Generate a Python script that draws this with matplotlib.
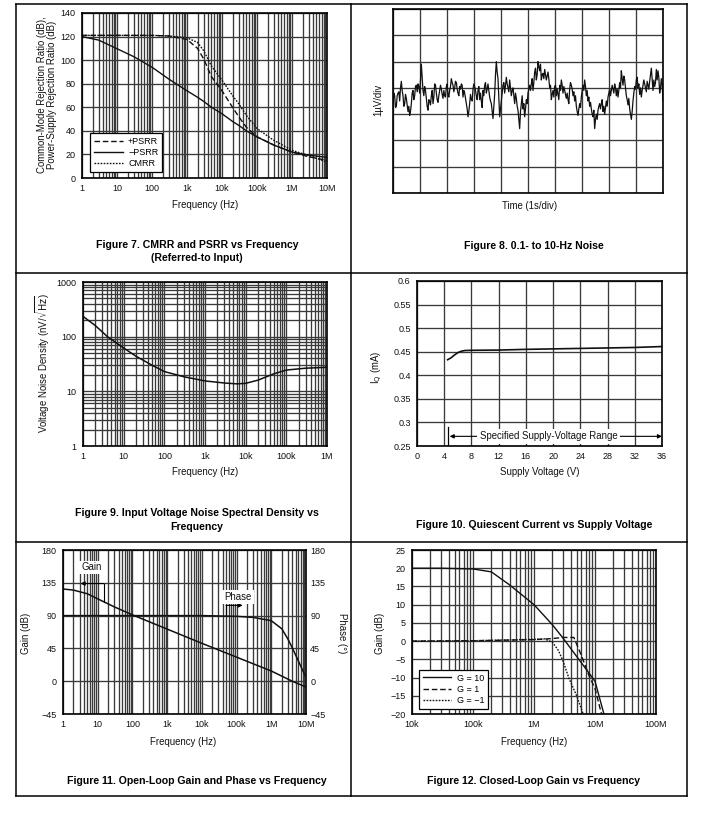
import numpy as np
import matplotlib
matplotlib.use('Agg')
import matplotlib.pyplot as plt
from matplotlib.lines import Line2D

plt.rcParams['font.family'] = ['Liberation Sans', 'DejaVu Sans']
plt.rcParams['axes.unicode_minus'] = True

# ---------------- data ----------------
# Figure 7: CMRR / PSRR vs frequency
cm_freq = [1, 3, 10, 30, 100, 300, 1e3, 2e3, 3e3, 5e3, 1e4, 2e4, 3e4, 5e4, 1e5, 3e5, 1e6, 3e6, 1e7]
psrr_pos = [121, 121, 121, 121, 121, 120.5, 117.5, 110, 101, 86, 74, 60, 52, 43, 35, 28, 22, 18, 15]
psrr_neg = [120, 117, 109.7, 103, 94, 84, 74, 68.5, 65, 60, 54.5, 48, 44.7, 40, 34.8, 28, 22, 19.4, 17.5]
cmrr = [121, 121, 121, 121, 121, 120.5, 119, 115, 108, 95, 83, 70, 63, 53, 42, 32, 23.5, 19, 13.6]
cm_ticks = [1, 10, 100, 1e3, 1e4, 1e5, 1e6, 1e7]
cm_ticklabels = ['1', '10', '100', '1k', '10k', '100k', '1M', '10M']
cm_yticks = [0, 20, 40, 60, 80, 100, 120, 140]

# Figure 8: 0.1 to 10 Hz noise (uV, relative to centre line, 10 s record)
noise_uv = [-0.6, -0.2, -0.3, -0.75, -0.7, -0.3, -0.2, -0.15, -0.5, 0.0, 0.25, -0.1, -0.3, -0.7,
            -0.6, -0.25, -0.4, -0.65, -0.9, -0.7, -1.05, -0.9, -0.6, -0.2, -0.1, -0.45, -0.3, 0.05,
            0.1, -0.15, 0.15, 0.05, -0.2, 0.3, 0.9, 0.4, -0.1, -0.3, 0.05, -0.1, -0.4, -0.7, -0.85,
            -0.45, -0.5, -0.65, -0.3, -0.1, -0.6, -0.35, 0.15, 0.1, -0.2, -0.45, -0.55, -0.3, -0.1,
            0.1, -0.05, -0.25, -0.4, -0.1, -0.3, -0.35, 0.05, 0.15, -0.25, -0.35, -0.1, 0.05, 0.35,
            0.2, 0.1, -0.15, 0.0, 0.25, 0.2, -0.05, -0.2, -0.3, 0.05, -0.05, 0.15, 0.1, -0.35, -0.1,
            -0.2, -0.4, -0.6, -0.8, -1.1, -0.9, -0.6, -0.25, -0.45, -0.5, -0.05, 0.15, 0.05, -0.1,
            -0.3, -0.45, -0.1, 0.05, -0.45, -0.2, -0.5, -0.75, -0.1, -0.3, 0.1, 0.2, -0.2, -0.05,
            0.15, -0.1, -0.35, -0.5, -0.6, -0.9, -1.17, -0.7, -0.25, 0.5, 1.0, 0.6, 0.35, -0.4,
            -1.1, -0.8, -0.5, -0.2, 0.1, 0.2, -0.2, 0.1, 0.4, 0.15, 0.0, -0.15, 0.3, 0.0, -0.3,
            -0.1, 0.0, -0.3, -0.6, -0.2, -0.4, -0.7, -0.85, -1.2, -1.55, -0.9, -0.6, -0.3, -0.8,
            -0.6, -1.1, -0.8, -0.45, -0.6, -0.2, -0.05, 0.1, -0.1, 0.15, 0.35, -0.1, 0.2, 0.6,
            0.75, 0.3, 0.5, 1.0, 0.8, 0.65, 0.9, 0.3, 0.5, 0.55, 0.35, 0.7, 0.5, 0.3, 0.45, 0.6,
            0.35, 0.0, 0.1, -0.45, -0.25, -0.1, -0.35, 0.05, 0.1, -0.3, -0.05, -0.25, -0.45, 0.1,
            -0.1, 0.3, 0.1, -0.2, 0.05, -0.1, -0.25, -0.4, -0.2, -0.45, -0.6, -0.05, 0.2, 0.1,
            -0.05, -0.3, -0.15, -0.5, -0.3, -0.7, -0.9, -1.05, -0.8, -0.6, -0.75, -0.35, -0.1, 0.1,
            -0.1, 0.3, 0.05, -0.3, -0.1, -0.5, -0.35, -0.7, -0.55, -0.8, -1.0, -1.1, -0.85, -1.55,
            -1.2, -1.0, -1.2, -0.85, -0.7, -0.6, -0.8, -0.6, -0.45, -0.9, -0.7, -1.0, -0.75, -0.5,
            -0.7, -0.35, -0.2, -0.05, -0.3, -0.1, 0.1, -0.05, -0.2, 0.15, 0.0, -0.3, -0.05, -0.35,
            -0.1, 0.2, 0.0, 0.65, 0.35, 0.1, 0.45, 0.3, 0.0, -0.3, -0.45, -0.65, -0.4, -0.8, -1.0,
            -1.2, -0.9, -0.5, -0.2, 0.05, -0.05, 0.3, 0.4, 0.0, 0.15, -0.25, 0.0, -0.35, -0.1, 0.1,
            0.3, 0.15, 0.0, -0.15, 0.25, 0.1, -0.05, 0.25, 0.5, 0.75, 0.3, -0.1, 0.3, 0.05, 0.2,
            0.7, 0.3, 0.65, 0.4, -0.2, 0.0, 0.35, 0.1, -0.5]
noise_duration_s = 10

# Figure 9: voltage noise density
nd_freq = [1, 2, 4, 10, 20, 50, 100, 300, 1e3, 3e3, 6e3, 1e4, 2e4, 5e4, 1e5, 3e5, 1e6]
nd_val = [235, 160, 100, 62, 44, 30, 23, 18.5, 15.5, 14.2, 13.7, 14, 16, 21, 24.5, 26.5, 27.5]
nd_ticks = [1, 10, 100, 1e3, 1e4, 1e5, 1e6]
nd_ticklabels = ['1', '10', '100', '1k', '10k', '100k', '1M']
nd_yticks = [1, 10, 100, 1000]

# Figure 10: quiescent current vs supply voltage
iq_v = [4.5, 5, 5.5, 6, 6.5, 7, 8, 12, 16, 20, 24, 28, 32, 36]
iq_ma = [0.433, 0.437, 0.443, 0.448, 0.451, 0.4525, 0.453, 0.4535, 0.455, 0.456, 0.457, 0.458, 0.459, 0.461]
spec_vmin, spec_vmax = 4.5, 36
iq_xticks = [0, 4, 8, 12, 16, 20, 24, 28, 32, 36]
iq_yticks = [0.25, 0.3, 0.35, 0.4, 0.45, 0.5, 0.55, 0.6]
iq_yticklabels = ['0.25', '0.3', '0.35', '0.4', '0.45', '0.5', '0.55', '0.6']

# Figure 11: open-loop gain and phase
ol_freq = [1, 2, 5, 10, 30, 100, 1e3, 1e4, 1e5, 1e6, 4e6, 1e7]
ol_gain = [126.5, 125, 120, 113, 102, 91, 71.5, 52, 33, 14, 0, -8]
ph_freq = [1, 10, 100, 1e3, 1e4, 1e5, 3e5, 1e6, 2e6, 3e6, 4e6, 6e6, 8e6, 1e7]
ol_phase = [90, 90, 90, 90, 90, 89, 87.5, 83, 72, 58, 46, 28, 15, 5]
ol_yticks = [-45, 0, 45, 90, 135, 180]

# Figure 12: closed-loop gain
cl_freq_g10 = [1e4, 3e4, 1e5, 2e5, 4e5, 1e6, 2e6, 3e6, 5e6, 1e7, 1.4e7]
cl_g10 = [20, 20, 19.8, 19, 15.4, 10, 4.5, 0.8, -4.2, -11, -20]
cl_freq_g1 = [1e4, 1e5, 1e6, 2e6, 3e6, 4.5e6, 6e6, 8e6, 1e7, 1.3e7]
cl_g1 = [0, 0.1, 0.4, 0.7, 1.0, 1.0, -4, -9.5, -13, -20.5]
cl_freq_gm1 = [1e4, 1e5, 1e6, 1.5e6, 2e6, 2.5e6, 3e6, 3.7e6, 5e6, 6.4e6]
cl_gm1 = [0, 0.1, 0.5, 0.6, -0.3, -2.5, -5.5, -10, -15, -20]
cl_ticks = [1e4, 1e5, 1e6, 1e7, 1e8]
cl_ticklabels = ['10k', '100k', '1M', '10M', '100M']
cl_yticks = [-20, -15, -10, -5, 0, 5, 10, 15, 20, 25]

# ---------------- styling ----------------
W, H = 728, 813
fig = plt.figure(figsize=(W / 100, H / 100), dpi=100)

TICK_FS = 6.5
LABEL_FS = 6.9
CAP_FS = 7.6
GRID_C = '#3a3a3a'
GRID_LW = 0.95
CURVE_C = '#111111'
TXT_C = '#111111'


def rect(l, t, r, b):
    return [l / W, 1 - b / H, (r - l) / W, (b - t) / H]


def fline(x0, y0, x1, y1, lw=1.1):
    fig.add_artist(Line2D([x0 / W, x1 / W], [1 - y0 / H, 1 - y1 / H],
                          transform=fig.transFigure, color='black', lw=lw))


def ftext(x, y, s, **kw):
    fig.text(x / W, 1 - y / H, s, **kw)


def style(ax):
    ax.set_axisbelow(True)
    ax.tick_params(which='both', length=0, labelsize=TICK_FS, colors=TXT_C, pad=4.5)
    for sp in ax.spines.values():
        sp.set_linewidth(1.2)
        sp.set_color('black')
    ax.grid(which='both', color=GRID_C, lw=GRID_LW)


def minors(decades):
    return [d * k for d in decades[:-1] for k in range(2, 10)]


# table frame
fline(16, 4.5, 687, 4.5)
fline(16, 796, 687, 796)
fline(16, 4.5, 16, 796)
fline(687, 4.5, 687, 796)
fline(351, 4.5, 351, 796)
fline(16, 273, 687, 273)
fline(16, 542, 687, 542)

# ---------- Figure 7 ----------
ax = fig.add_axes(rect(82, 13, 327, 178))
ax.set_xscale('log')
ax.set_xlim(cm_ticks[0], cm_ticks[-1])
ax.set_ylim(cm_yticks[0], cm_yticks[-1])
ax.set_xticks(cm_ticks, cm_ticklabels)
ax.set_xticks(minors(cm_ticks), minor=True)
ax.set_xticklabels([], minor=True)
ax.set_yticks(cm_yticks)
style(ax)
ax.plot(cm_freq, psrr_pos, color=CURVE_C, lw=1.0, ls=(0, (4, 2)), label='+PSRR')
ax.plot(cm_freq, psrr_neg, color=CURVE_C, lw=1.0, ls='-', label='\u2212PSRR')
ax.plot(cm_freq, cmrr, color=CURVE_C, lw=1.0, ls=(0, (1.2, 1)), label='CMRR')
leg = ax.legend(loc='lower left', bbox_to_anchor=(0.015, 0.01), fontsize=TICK_FS, frameon=True,
                fancybox=False, framealpha=1, edgecolor='black', handlelength=3.2,
                borderpad=0.4, labelspacing=0.25, handletextpad=0.6)
leg.get_frame().set_linewidth(0.9)
ftext(205, 205, 'Frequency (Hz)', fontsize=LABEL_FS, ha='center', va='center', color=TXT_C)
ftext(47, 95, 'Common-Mode Rejection Ratio (dB),\nPower-Supply Rejection Ratio (dB)',
      fontsize=LABEL_FS, ha='center', va='center', rotation=90, color=TXT_C, linespacing=1.05)
ftext(197, 245.5, 'Figure 7. CMRR and PSRR vs Frequency', fontsize=CAP_FS, fontweight='bold',
      ha='center', va='center')
ftext(197, 257.5, '(Referred-to Input)', fontsize=CAP_FS, fontweight='bold', ha='center', va='center')

# ---------- Figure 8 ----------
ax = fig.add_axes(rect(393, 9, 663, 193))
t = np.linspace(0, noise_duration_s, len(noise_uv))
ax.set_xlim(0, noise_duration_s)
ax.set_ylim(-4, 3)
ax.set_xticks(np.arange(0, 11, 1))
ax.set_yticks(np.arange(-4, 4, 1))
ax.set_xticklabels([])
ax.set_yticklabels([])
style(ax)
ax.plot(t, noise_uv, color=CURVE_C, lw=0.9)
ftext(530, 206, 'Time (1s/div)', fontsize=LABEL_FS, ha='center', va='center', color=TXT_C)
ftext(378, 100, '1\u00b5V/div', fontsize=LABEL_FS, ha='center', va='center', rotation=90, color=TXT_C)
ftext(534, 246, 'Figure 8. 0.1- to 10-Hz Noise', fontsize=CAP_FS, fontweight='bold',
      ha='center', va='center')

# ---------- Figure 9 ----------
ax = fig.add_axes(rect(83, 282, 327, 446))
ax.set_xscale('log')
ax.set_yscale('log')
ax.set_xlim(nd_ticks[0], nd_ticks[-1])
ax.set_ylim(nd_yticks[0], nd_yticks[-1])
ax.set_xticks(nd_ticks, nd_ticklabels)
ax.set_xticks(minors(nd_ticks), minor=True)
ax.set_xticklabels([], minor=True)
ax.set_yticks(nd_yticks, [str(v) for v in nd_yticks])
ax.set_yticks(minors(nd_yticks), minor=True)
ax.set_yticklabels([], minor=True)
style(ax)
ax.plot(nd_freq, nd_val, color=CURVE_C, lw=1.1)
ftext(205, 472, 'Frequency (Hz)', fontsize=LABEL_FS, ha='center', va='center', color=TXT_C)
ftext(43, 363, r'Voltage Noise Density (nV/$\sqrt{\mathrm{Hz}}$)', fontsize=LABEL_FS,
      ha='center', va='center', rotation=90, color=TXT_C)
ftext(197, 513, 'Figure 9. Input Voltage Noise Spectral Density vs', fontsize=CAP_FS,
      fontweight='bold', ha='center', va='center')
ftext(197, 526.5, 'Frequency', fontsize=CAP_FS, fontweight='bold', ha='center', va='center')

# ---------- Figure 10 ----------
ax = fig.add_axes(rect(417, 281, 662, 446))
ax.set_xlim(iq_xticks[0], iq_xticks[-1])
ax.set_ylim(iq_yticks[0], iq_yticks[-1])
ax.set_xticks(iq_xticks)
ax.set_yticks(iq_yticks, iq_yticklabels)
style(ax)
ax.plot(iq_v, iq_ma, color=CURVE_C, lw=1.2)
ax.plot([spec_vmin, spec_vmin], [0.25, 0.29], color='black', lw=0.9)
ax.annotate('', xy=(spec_vmin + 0.3, 0.2705), xytext=(spec_vmax, 0.2705),
            arrowprops=dict(arrowstyle='<|-|>', color='black', lw=0.8,
                            mutation_scale=6, shrinkA=0, shrinkB=0))
ax.text(19.3, 0.2705, 'Specified Supply-Voltage Range', fontsize=LABEL_FS, ha='center', va='center',
        color=TXT_C, bbox=dict(boxstyle='square,pad=0.25', fc='white', ec='none'))
ftext(540, 472, 'Supply Voltage (V)', fontsize=LABEL_FS, ha='center', va='center', color=TXT_C)
ftext(377, 367, r'I$_\mathrm{Q}$ (mA)', fontsize=LABEL_FS, ha='center', va='center',
      rotation=90, color=TXT_C)
ftext(534, 525, 'Figure 10. Quiescent Current vs Supply Voltage', fontsize=CAP_FS,
      fontweight='bold', ha='center', va='center')

# ---------- Figure 11 ----------
ax = fig.add_axes(rect(63, 550, 306, 714))
ax.set_xscale('log')
ax.set_xlim(cm_ticks[0], cm_ticks[-1])
ax.set_ylim(ol_yticks[0], ol_yticks[-1])
ax.set_xticks(cm_ticks, cm_ticklabels)
ax.set_xticks(minors(cm_ticks), minor=True)
ax.set_xticklabels([], minor=True)
ax.set_yticks(ol_yticks)
style(ax)
ax.plot(ol_freq, ol_gain, color=CURVE_C, lw=1.1)
ax2 = ax.twinx()
ax2.set_ylim(ol_yticks[0], ol_yticks[-1])
ax2.set_yticks(ol_yticks)
ax2.tick_params(length=0, labelsize=TICK_FS, colors=TXT_C, pad=3)
for sp in ax2.spines.values():
    sp.set_visible(False)
ax2.plot(ph_freq, ol_phase, color=CURVE_C, lw=1.1)
# Gain annotation
ax.annotate('', xy=(3.2, 134), xytext=(15, 134),
            arrowprops=dict(arrowstyle='-|>', color='black', lw=0.8, mutation_scale=6,
                            shrinkA=0, shrinkB=0))
ax.plot([15, 15], [134, 109], color='black', lw=0.8)
ax.text(6.5, 156, 'Gain', fontsize=LABEL_FS, ha='center', va='center', color=TXT_C,
        bbox=dict(boxstyle='square,pad=0.2', fc='white', ec='none'))
ax.annotate('', xy=(1.5e5, 104), xytext=(5e4, 104),
            arrowprops=dict(arrowstyle='-|>', color='black', lw=0.8, mutation_scale=6,
                            shrinkA=0, shrinkB=0))
ax.plot([5e4, 5e4], [104, 90], color='black', lw=0.8)
ax.text(1.1e5, 116, 'Phase', fontsize=LABEL_FS, ha='center', va='center', color=TXT_C,
        bbox=dict(boxstyle='square,pad=0.2', fc='white', ec='none'))
ftext(183, 742, 'Frequency (Hz)', fontsize=LABEL_FS, ha='center', va='center', color=TXT_C)
ftext(26, 633, 'Gain (dB)', fontsize=LABEL_FS, ha='center', va='center', rotation=90, color=TXT_C)
ftext(342, 633, 'Phase (\u00b0)', fontsize=LABEL_FS, ha='center', va='center', rotation=270,
      color=TXT_C)
ftext(197, 781, 'Figure 11. Open-Loop Gain and Phase vs Frequency', fontsize=CAP_FS,
      fontweight='bold', ha='center', va='center')

# ---------- Figure 12 ----------
ax = fig.add_axes(rect(412, 550, 656, 714))
ax.set_xscale('log')
ax.set_xlim(cl_ticks[0], cl_ticks[-1])
ax.set_ylim(cl_yticks[0], cl_yticks[-1])
ax.set_xticks(cl_ticks, cl_ticklabels)
ax.set_xticks(minors(cl_ticks), minor=True)
ax.set_xticklabels([], minor=True)
ax.set_yticks(cl_yticks)
style(ax)
ax.plot(cl_freq_g10, cl_g10, color=CURVE_C, lw=1.0, ls='-', label='G = 10')
ax.plot(cl_freq_g1, cl_g1, color=CURVE_C, lw=1.0, ls=(0, (4, 2)), label='G = 1')
ax.plot(cl_freq_gm1, cl_gm1, color=CURVE_C, lw=1.0, ls=(0, (1.2, 1)), label='G = \u22121')
leg = ax.legend(loc='lower left', bbox_to_anchor=(0.01, 0.005), fontsize=TICK_FS, frameon=True,
                fancybox=False, framealpha=1, edgecolor='black', handlelength=3.2,
                borderpad=0.4, labelspacing=0.25, handletextpad=0.6)
leg.get_frame().set_linewidth(0.9)
ftext(534, 742, 'Frequency (Hz)', fontsize=LABEL_FS, ha='center', va='center', color=TXT_C)
ftext(380, 633, 'Gain (dB)', fontsize=LABEL_FS, ha='center', va='center', rotation=90, color=TXT_C)
ftext(534, 781, 'Figure 12. Closed-Loop Gain vs Frequency', fontsize=CAP_FS,
      fontweight='bold', ha='center', va='center')

fig.savefig('out.png', dpi=100)
